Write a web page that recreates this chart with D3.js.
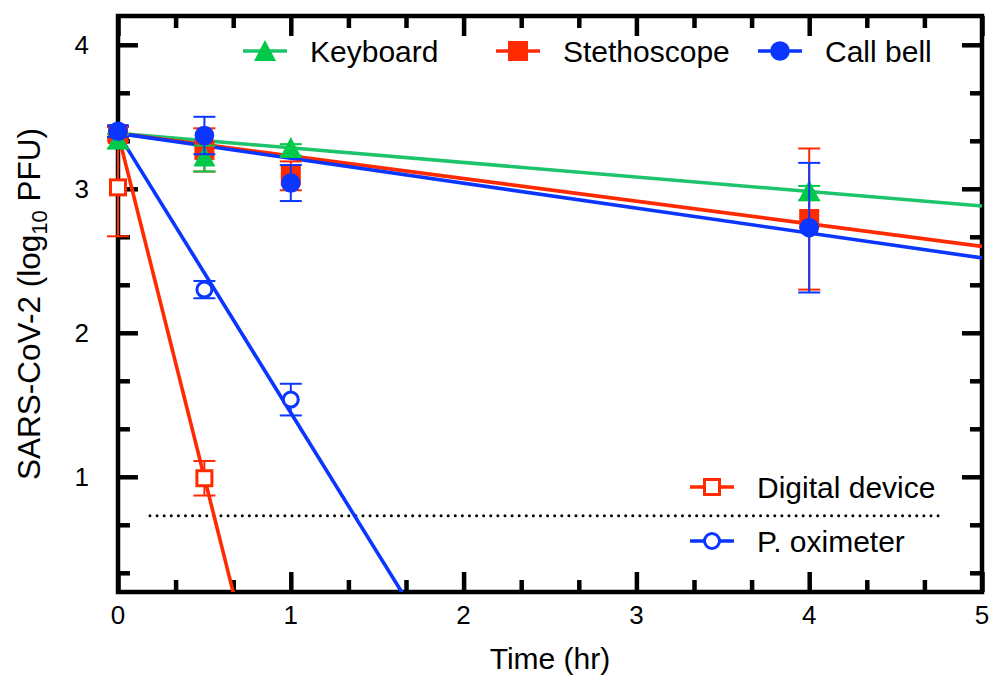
<!DOCTYPE html>
<html>
<head>
<meta charset="utf-8">
<script src="https://cdn.jsdelivr.net/npm/d3@7"></script>
<style>
  body { margin: 0; background: #fff; }
  svg { display: block; font-family: "Liberation Sans", Arial, Helvetica, sans-serif; }
</style>
</head>
<body>
<svg id="chart" width="992" height="679"></svg>
<script>
// measured data (log10 PFU over time in hr)
var time = [0, 0.5, 1, 4];
var keyboard = [3.33, 3.21, 3.27, 2.97];
var keyboardErr = [0.05, 0.09, 0.04, 0.05];
var stethoscope = [3.38, 3.27, 3.09, 2.79];
var stethoscopeErr = [0.05, 0.15, 0.10, 0.49];
var callBell = [3.40, 3.37, 3.04, 2.73];
var callBellErr = [0.04, 0.13, 0.125, 0.45];

var timeDigital = [0, 0.5];
var digital = [3.01, 0.99];
var digitalErr = [0.34, 0.12];
var timeOxi = [0, 0.5, 1];
var oximeter = [3.39, 2.30, 1.536];
var oximeterErr = [0.04, 0.06, 0.11];

// fitted decay lines: intercept and slope
var fitNames = ['Keyboard', 'Stethoscope', 'Call bell', 'Digital device', 'P. oximeter'];
var fitIntercept = [3.385, 3.385, 3.385, 3.385, 3.385];
var fitSlope = [-0.101, -0.157, -0.173, -4.78, -1.94];

var detectionLimit = 0.73;
var xTicks = [0, 1, 2, 3, 4, 5];
var yTicks = [1, 2, 3, 4];

var green = '#00c94a', greenLine = '#1ec46c', red = '#ff2a00', blue = '#0a36ff';

var svg = d3.select('#chart');
var pLeft = 118, pRight = 982, pTop = 16, pBottom = 592;

var x = d3.scaleLinear().domain([0, 5]).range([pLeft, pRight]);
var y = d3.scaleLinear().domain([0.2, 4.2]).range([pBottom, pTop]);

var minorX = d3.range(0, 16).map((i) => i / 3).filter((v, i) => i % 3 != 0);
var minorY = d3.range(1, 13).map((i) => i / 3).filter((v, i) => (i + 1) % 3 != 0);

svg.append('clipPath').attr('id', 'plotclip')
    .append('rect').attr('x', pLeft).attr('y', pTop).attr('width', pRight - pLeft).attr('height', pBottom - pTop);

// axes with inward ticks
function drawAxis(gen, tx, ty) {
    let g = svg.append('g').attr('transform', 'translate(' + tx + ',' + ty + ')').call(gen);
    g.select('.domain').remove();
    g.selectAll('line').attr('stroke', '#000').attr('stroke-width', 4.5);
    return g;
}
[[d3.axisBottom, pBottom], [d3.axisTop, pTop]].forEach(function(a) {
    drawAxis(a[0](x).tickValues(xTicks).tickSize(-20).tickFormat(''), 0, a[1]);
    drawAxis(a[0](x).tickValues(minorX).tickSize(-12).tickFormat(''), 0, a[1]);
});
[[d3.axisLeft, pLeft], [d3.axisRight, pRight]].forEach(function(a) {
    drawAxis(a[0](y).tickValues(yTicks).tickSize(-20).tickFormat(''), a[1], 0);
    drawAxis(a[0](y).tickValues(minorY).tickSize(-12).tickFormat(''), a[1], 0);
});

svg.append('rect')
    .attr('x', pLeft).attr('y', pTop).attr('width', pRight - pLeft).attr('height', pBottom - pTop)
    .attr('fill', 'none').attr('stroke', '#000').attr('stroke-width', 4.5);

// tick labels
svg.append('g').selectAll('text').data(xTicks).enter().append('text')
    .attr('x', (d) => x(d)).attr('y', 624)
    .attr('text-anchor', 'middle').attr('font-size', 26).text((d) => d);
svg.append('g').selectAll('text').data(yTicks).enter().append('text')
    .attr('x', 89).attr('y', (d) => y(d) + 9.5)
    .attr('text-anchor', 'end').attr('font-size', 26).text((d) => d);

svg.append('text').attr('x', (pLeft + pRight) / 2).attr('y', 669)
    .attr('text-anchor', 'middle').attr('font-size', 30).text('Time (hr)');
var yt = svg.append('text')
    .attr('transform', 'translate(40,' + ((pTop + pBottom) / 2) + ') rotate(-90)')
    .attr('text-anchor', 'middle').attr('font-size', 31.5);
yt.append('tspan').text('SARS-CoV-2 (log');
yt.append('tspan').attr('font-size', 22).attr('dy', 7).text('10');
yt.append('tspan').attr('dy', -7).text(' PFU)');

// limit of detection
svg.append('line')
    .attr('x1', x(0.185)).attr('x2', x(4.75))
    .attr('y1', y(detectionLimit)).attr('y2', y(detectionLimit))
    .attr('stroke', '#000').attr('stroke-width', 3)
    .attr('stroke-linecap', 'round').attr('stroke-dasharray', '0 7.1');

// fitted lines
var fitColors = [greenLine, red, blue, red, blue];
var lines = svg.append('g').attr('clip-path', 'url(#plotclip)');
fitNames.forEach(function(name, i) {
    lines.append('line')
        .attr('x1', x(0)).attr('y1', y(fitIntercept[i]))
        .attr('x2', x(5)).attr('y2', y(fitIntercept[i] + fitSlope[i] * 5))
        .attr('stroke', fitColors[i]).attr('stroke-width', 3.6);
});

// error bars + markers
function drawSeries(xs, ys, errs, color, shape, open) {
    let g = svg.append('g');
    xs.forEach(function(t, i) {
        let cx = x(t), lo = y(ys[i] - errs[i]), hi = y(ys[i] + errs[i]);
        g.append('line').attr('x1', cx).attr('x2', cx).attr('y1', lo).attr('y2', hi)
            .attr('stroke', color).attr('stroke-width', 2);
        [lo, hi].forEach(function(cy) {
            g.append('line').attr('x1', cx - 11).attr('x2', cx + 11).attr('y1', cy).attr('y2', cy)
                .attr('stroke', color).attr('stroke-width', 2);
        });
    });
    xs.forEach(function(t, i) {
        drawMarker(g, x(t), y(ys[i]), color, shape, open);
    });
}

function drawMarker(g, cx, cy, color, shape, open) {
    let m;
    if (shape == 'triangle') {
        m = g.append('path').attr('d', 'M' + cx + ',' + (cy - 13) + 'L' + (cx + 11) + ',' + (cy + 8) + 'L' + (cx - 11) + ',' + (cy + 8) + 'Z');
    } else if (shape == 'square') {
        let s = open ? 15 : 20;
        m = g.append('rect').attr('x', cx - s / 2).attr('y', cy - s / 2).attr('width', s).attr('height', s);
    } else {
        m = g.append('circle').attr('cx', cx).attr('cy', cy).attr('r', open ? 7.5 : 9.8);
    }
    if (open) {
        m.attr('fill', '#fff').attr('stroke', color).attr('stroke-width', 3);
    } else {
        m.attr('fill', color);
    }
}

drawSeries(timeOxi, oximeter, oximeterErr, blue, 'circle', true);
drawSeries(timeDigital, digital, digitalErr, red, 'square', true);
drawSeries(time, stethoscope, stethoscopeErr, red, 'square', false);
drawSeries(time, keyboard, keyboardErr, green, 'triangle', false);
drawSeries(time, callBell, callBellErr, blue, 'circle', false);

// legends
var legendItems = [
    {name: 'Keyboard', lx: 243, ly: 51, color: green, line: greenLine, shape: 'triangle', open: false},
    {name: 'Stethoscope', lx: 496, ly: 51, color: red, line: red, shape: 'square', open: false},
    {name: 'Call bell', lx: 758, ly: 51, color: blue, line: blue, shape: 'circle', open: false},
    {name: 'Digital device', lx: 690, ly: 487, color: red, line: red, shape: 'square', open: true},
    {name: 'P. oximeter', lx: 690, ly: 541, color: blue, line: blue, shape: 'circle', open: true}
];
var lg = svg.append('g');
legendItems.forEach(function(d) {
    lg.append('line').attr('x1', d.lx).attr('x2', d.lx + 44).attr('y1', d.ly).attr('y2', d.ly)
        .attr('stroke', d.line).attr('stroke-width', 3.6);
    drawMarker(lg, d.lx + 22, d.ly + (d.shape == 'triangle' ? 2 : 0), d.color, d.shape, d.open);
    lg.append('text').attr('x', d.lx + 67).attr('y', d.ly + 11)
        .attr('font-size', 30).text(d.name);
});
</script>
</body>
</html>
